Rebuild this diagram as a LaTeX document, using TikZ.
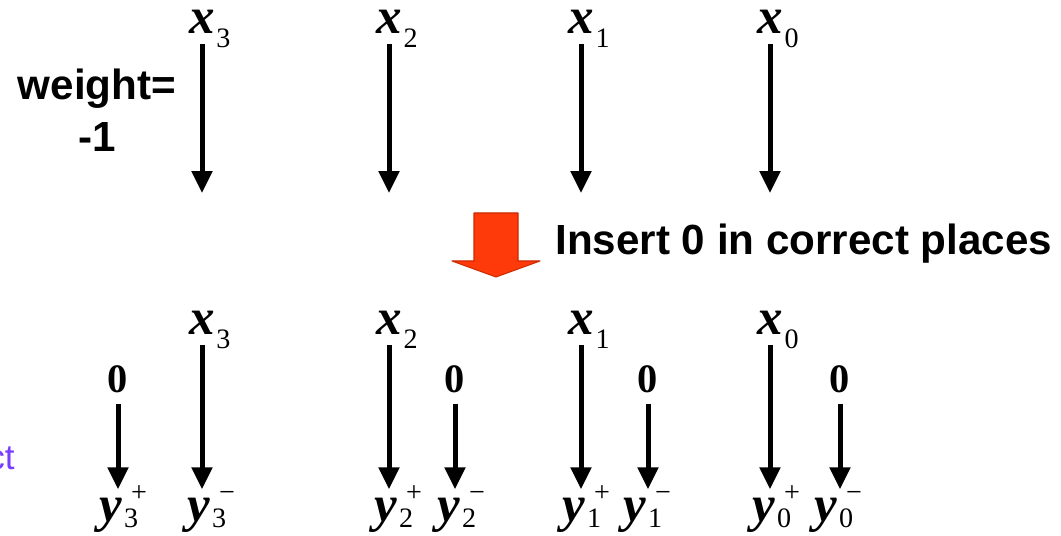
\documentclass[tikz,border=0pt]{standalone}
\usepackage{fontspec}
\setmainfont{Liberation Serif}
\newfontfamily\arial{Liberation Sans}
\usetikzlibrary{arrows.meta}
\definecolor{redarrow}{RGB}{255,58,10}
\definecolor{redline}{RGB}{205,40,0}
\definecolor{linkcol}{RGB}{120,60,255}
\newcommand{\subf}{\fontsize{16}{16}\selectfont\mdseries\upshape}
\newcommand{\xv}[1]{\textbf{\textit{x}}\rlap{\raisebox{-7.5pt}[0pt][0pt]{\hspace{1pt}\subf #1}}}
\newcommand{\yv}[2]{\textbf{\textit{y}}\rlap{\raisebox{11pt}[0pt][0pt]{\hspace{5pt}\subf #1}}\rlap{\raisebox{-3.8pt}[0pt][0pt]{\hspace{1pt}\subf #2}}}
\begin{document}
\begin{tikzpicture}[x=0.02cm, y=-0.02cm, line join=round,
	var/.style={font=\fontsize{29}{32}\selectfont, inner xsep=0pt, inner ysep=0pt, anchor=base},
	zero/.style={var, font=\fontsize{23}{26}\selectfont\bfseries},
	arr/.style={line width=0.1cm, -{Triangle[width=0.4cm,length=0.44cm]}, shorten <=0.2cm, shorten >=0.16cm},
	txt/.style={font=\arial\bfseries\fontsize{24}{29.5}\selectfont, inner sep=0pt}]
	\useasboundingbox (0,0) rectangle (1061,536);
	% top row
	\coordinate (bot) at (0,201);
	\foreach \i/\px in {3/202,2/389,1/581,0/770}{
		\node[var] (xt\i) at (\px,34) {\xv{\i}};
		\draw[arr] (xt\i) -- (xt\i |- bot);
	}
	\node[txt, align=center] (w) at (97,110) {weight=\\-1};
	% step between the rows
	\draw[draw=redline, fill=redarrow, line width=0.6pt] (474,213) -- (518,213) -- (518,261) -- (540,261) -- (496,277) -- (452,261) -- (474,261) -- cycle;
	\node[txt, anchor=base west] (ins) at (555,255) {Insert 0 in correct places};
	% bottom row
	\foreach \i/\px in {3/202,2/389,1/581,0/770} \node[var] (x\i) at (\px,335) {\xv{\i}};
	\foreach \i/\px in {3/118,2/455,1/648,0/840} \node[zero] (z\i) at (\px,393) {0};
	\foreach \i/\pp/\pm in {3/111/199,2/386/449,1/574/635,0/764/826}{
		\node[var] (yp\i) at (\pp,521) {\yv{+}{\i}};
		\node[var] (ym\i) at (\pm,521) {\yv{−}{\i}};
	}
	\draw[arr] (z3) -- (z3 |- yp3.north);
	\draw[arr] (x3) -- (x3 |- ym3.north);
	\foreach \i in {2,1,0}{
		\draw[arr] (x\i) -- (x\i |- yp\i.north);
		\draw[arr] (z\i) -- (z\i |- ym\i.north);
	}
	\node[font=\arial\fontsize{20}{24}\selectfont, text=linkcol, anchor=base east, inner sep=0pt] (ct) at (15,470) {ct};
\end{tikzpicture}
\end{document}
